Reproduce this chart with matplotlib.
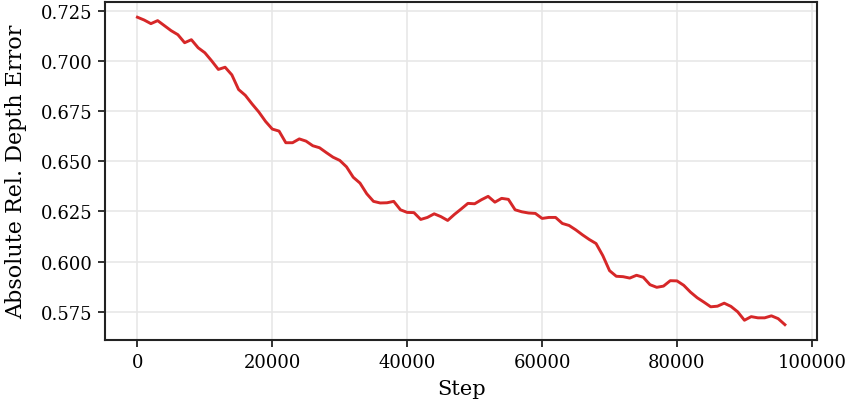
import numpy as np
import matplotlib
matplotlib.use("Agg")
import matplotlib.pyplot as plt

# validation curve, read every 1000 steps
steps = np.arange(0, 97000, 1000)
abs_rel = [
    0.7217, 0.7203, 0.7185, 0.7200, 0.7175, 0.7150, 0.7130, 0.7090, 0.7105, 0.7065,
    0.7040, 0.7000, 0.6957, 0.6968, 0.6930, 0.6857, 0.6828, 0.6785, 0.6745, 0.6698,
    0.6660, 0.6650, 0.6592, 0.6592, 0.6611, 0.6600, 0.6577, 0.6567, 0.6543, 0.6520,
    0.6504, 0.6472, 0.6420, 0.6391, 0.6338, 0.6300, 0.6292, 0.6293, 0.6300, 0.6258,
    0.6245, 0.6244, 0.6210, 0.6220, 0.6238, 0.6224, 0.6205, 0.6235, 0.6262, 0.6290,
    0.6288, 0.6308, 0.6325, 0.6296, 0.6315, 0.6310, 0.6258, 0.6248, 0.6242, 0.6240,
    0.6215, 0.6220, 0.6220, 0.6190, 0.6180, 0.6158, 0.6133, 0.6110, 0.6090, 0.6030,
    0.5955, 0.5927, 0.5925, 0.5918, 0.5932, 0.5922, 0.5885, 0.5872, 0.5878, 0.5905,
    0.5904, 0.5882, 0.5848, 0.5820, 0.5798, 0.5775, 0.5778, 0.5793, 0.5777, 0.5750,
    0.5708, 0.5726, 0.5720, 0.5720, 0.5730, 0.5716, 0.5686,
]
yticks = [0.575, 0.600, 0.625, 0.650, 0.675, 0.700, 0.725]
xticks = [0, 20000, 40000, 60000, 80000, 100000]

plt.rcParams['font.family'] = ['DejaVu Serif']
fig, ax = plt.subplots(figsize=(8.54, 4.06), dpi=100)
fig.subplots_adjust(left=0.123, right=0.957, top=0.993, bottom=0.160)

ax.plot(steps, abs_rel, color='#d62728', lw=2.1)
ax.set_xticks(xticks)
ax.set_yticks(yticks)
ax.set_xticklabels([str(t) for t in xticks])
ax.set_yticklabels([f"{t:.3f}" for t in yticks])
ax.grid(True, color='#e6e6e6', lw=1.1)
ax.set_axisbelow(True)
for s in ax.spines.values():
    s.set_color('#222222')
    s.set_linewidth(1.5)
ax.tick_params(labelsize=13, length=5, width=1.3, color='#222222', pad=4)
ax.set_xlabel('Step', fontsize=15, labelpad=6)
ax.set_ylabel('Absolute Rel. Depth Error', fontsize=16, labelpad=10)

fig.savefig('out.png', dpi=100)
